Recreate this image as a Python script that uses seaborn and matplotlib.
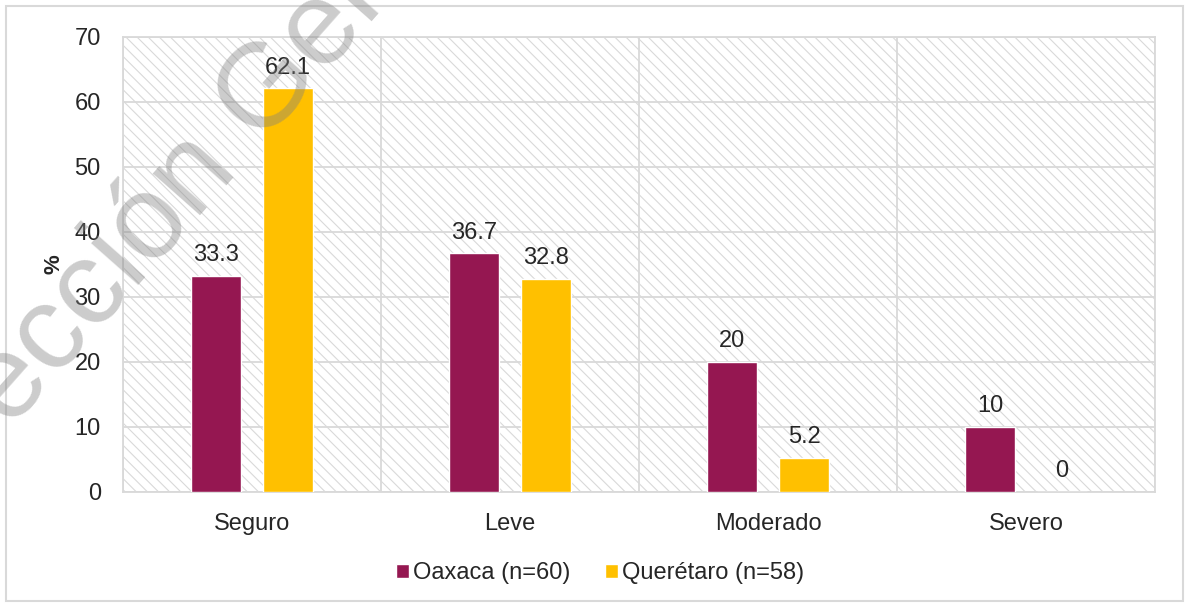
import matplotlib.pyplot as plt
import matplotlib.patches as mpatches
import pandas as pd
import seaborn as sns

# datos
categorias = ['Seguro', 'Leve', 'Moderado', 'Severo']
oaxaca = [33.3, 36.7, 20, 10]
queretaro = [62.1, 32.8, 5.2, 0]
grupos = ['Oaxaca (n=60)', 'Querétaro (n=58)']
colores = ['#951751', '#FFC000']

df = pd.DataFrame({
    'nivel': categorias * 2,
    'porcentaje': oaxaca + queretaro,
    'grupo': [grupos[0]] * len(categorias) + [grupos[1]] * len(categorias),
})

sns.set_style('white')
plt.rcParams['font.family'] = ['Liberation Sans', 'DejaVu Sans']
plt.rcParams['hatch.linewidth'] = 0.8
gris = '#d9d9d9'
fs = 17

fig = plt.figure(figsize=(11.86, 6.07), dpi=100)
ax = fig.add_axes([0.1037, 0.1895, 0.8702, 0.7496])

# fondo rayado
ax.add_patch(mpatches.Rectangle((0, 0), 1, 1, transform=ax.transAxes,
                                facecolor='white', edgecolor=gris,
                                hatch='\\\\\\', lw=0, zorder=0))

sns.barplot(data=df, x='nivel', y='porcentaje', hue='grupo',
            palette=colores, width=0.56, gap=0.3, saturation=1,
            ax=ax, zorder=3)

for cont in ax.containers:
    ax.bar_label(cont, labels=['{:g}'.format(v) for v in cont.datavalues],
                 padding=7, fontsize=fs)

ax.set_xlim(-0.5, len(categorias) - 0.5)
ax.set_ylim(0, 70)
ax.set_yticks(range(0, 71, 10))
ax.set_xticks([i - 0.5 for i in range(len(categorias) + 1)], minor=True)
ax.set_axisbelow(True)
ax.yaxis.grid(True, color=gris, lw=1.3)
ax.xaxis.grid(True, which='minor', color=gris, lw=1.3)
ax.xaxis.grid(False, which='major')
ax.tick_params(which='both', length=0, labelsize=fs)
ax.tick_params(axis='y', pad=16)
ax.tick_params(axis='x', pad=15)
for s in ax.spines.values():
    s.set_color(gris)
    s.set_linewidth(1.3)

ax.set_xlabel('')
ax.set_ylabel('%', fontsize=16, fontweight='bold', labelpad=7)

handles, labels = ax.get_legend_handles_labels()
ax.legend_.remove()
fig.legend(handles, labels, loc='center', bbox_to_anchor=(0.506, 0.056),
           ncol=2, frameon=False, fontsize=fs, handlelength=0.55,
           handleheight=0.55, handletextpad=0.17, columnspacing=1.45)

# borde exterior del grafico
fig.patches.append(mpatches.Rectangle((6 / 1186, 6 / 607), 1177 / 1186, 595 / 607,
                                      transform=fig.transFigure, fill=False,
                                      edgecolor=gris, lw=1.5))

# marca de agua
fig.text(-0.0762, 0.1025, 'Dirección General', rotation=48.5, rotation_mode='anchor',
         fontsize=86, color='#808080', alpha=0.4, ha='left', va='baseline',
         zorder=10)

fig.savefig('out.png', dpi=100)
